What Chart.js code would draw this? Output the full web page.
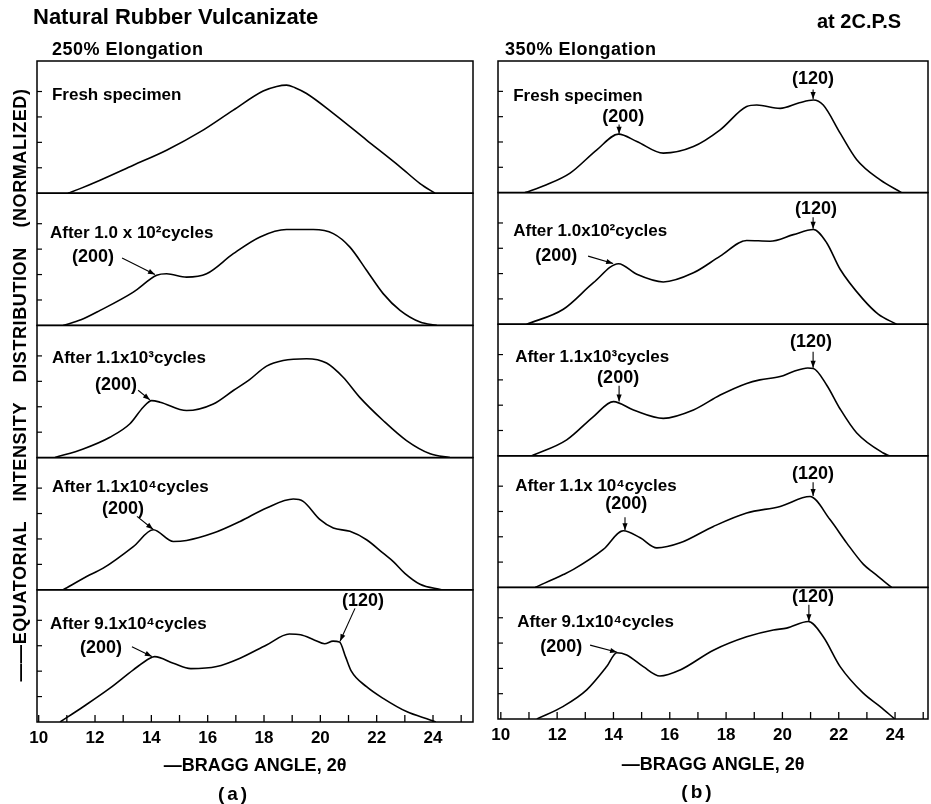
<!DOCTYPE html>
<html>
<head>
<meta charset="utf-8">
<script src="https://cdn.jsdelivr.net/npm/chart.js@4.4.0/dist/chart.umd.min.js"></script>
<style>
html,body{margin:0;padding:0;background:#fff;}
#wrap{position:relative;width:931px;height:804px;overflow:hidden;background:#fff;}
canvas{position:absolute;top:0;}
#cA{left:0;}
#cB{left:480px;}
</style>
</head>
<body>
<div id="wrap">
<canvas id="cA" width="480" height="804"></canvas>
<canvas id="cB" width="451" height="804"></canvas>
</div>
<script>
// ---------------- DATA ----------------
const xTickValues = [10,11,12,13,14,15,16,17,18,19,20,21,22,23,24,25];
const xTickLabels = ['10','','12','','14','','16','','18','','20','','22','','24',''];
const yTickValues = [1,2,3,4];

const figTitle = 'Natural Rubber Vulcanizate';
const figNote = 'at 2C.P.S';
const yAxisTitle = '——EQUATORIAL INTENSITY DISTRIBUTION (NORMALIZED)';
const xAxisTitle = '—BRAGG ANGLE, 2θ';
const panelATitle = '250% Elongation';
const panelBTitle = '350% Elongation';
const panelATag = '(a)';
const panelBTag = '(b)';
const panelALabels = ['Fresh specimen','After 1.0 x 10²cycles','After 1.1x10³cycles','After 1.1x10⁴cycles','After 9.1x10⁴cycles'];
const panelBLabels = ['Fresh specimen','After 1.0x10²cycles','After 1.1x10³cycles','After 1.1x 10⁴cycles','After 9.1x10⁴cycles'];

// Panel (a) 250% elongation : [2θ, normalized intensity]
const aFresh = [[11.04,0],[11.47,0.18],[12.18,0.51],[13.36,1.10],[14.54,1.69],[15.73,2.41],[16.91,3.27],[17.97,4.02],[18.45,4.20],[18.80,4.25],[19.10,4.15],[19.51,3.92],[20.46,3.14],[21.64,2.09],[22.83,1.04],[23.54,0.38],[24.07,0]];
const a1e2 = [[10.87,0],[11.50,0.22],[12.18,0.59],[13.36,1.31],[14.19,1.97],[14.54,2.03],[15.25,1.90],[15.96,2.03],[16.91,2.82],[17.86,3.48],[18.80,3.77],[19.75,3.77],[20.46,3.61],[21.05,3.08],[21.64,2.17],[22.23,1.25],[22.83,0.59],[23.54,0.13],[24.13,0]];
const a1e3 = [[10.58,0],[11.58,0.34],[12.53,0.80],[13.24,1.33],[13.71,1.98],[14.01,2.24],[14.31,2.18],[15.25,1.85],[16.20,2.11],[16.91,2.64],[17.50,3.08],[18.09,3.60],[18.68,3.82],[19.51,3.89],[20.22,3.72],[20.81,3.16],[21.40,2.37],[22.23,1.46],[23.06,0.67],[23.90,0.15],[24.60,0]];
const a1e4 = [[10.87,0],[11.82,0.59],[12.29,0.85],[13.36,1.70],[14.07,2.36],[14.78,1.90],[15.25,1.94],[16.20,2.23],[17.15,2.69],[18.09,3.22],[19.04,3.57],[19.39,3.48],[19.99,2.76],[20.46,2.43],[21.05,2.30],[21.64,1.97],[22.23,1.44],[22.60,1.10],[23.00,0.65],[23.54,0.22],[24.30,0]];
const a9e4 = [[10.76,0],[11.58,0.60],[12.53,1.33],[13.36,2.05],[13.95,2.51],[14.12,2.57],[14.78,2.31],[15.40,2.10],[16.32,2.18],[17.15,2.51],[18.09,3.03],[18.90,3.46],[19.30,3.43],[19.80,3.22],[20.15,3.08],[20.45,3.18],[20.68,3.15],[20.90,2.55],[21.10,2.00],[21.64,1.39],[22.23,0.93],[23.06,0.41],[23.90,0.08],[24.10,0]];

// Panel (b) 350% elongation
const bFresh = [[10.86,0],[11.60,0.30],[12.46,0.77],[13.41,1.69],[14.18,2.31],[14.83,2.02],[15.77,1.56],[16.84,1.82],[17.79,2.48],[18.73,3.40],[19.09,3.46],[19.92,3.33],[20.60,3.55],[21.10,3.66],[21.45,3.46],[22.05,2.35],[22.64,1.30],[23.46,0.51],[24.23,0]];
const b1e2 = [[10.92,0],[12.22,0.59],[13.29,1.64],[14.18,2.39],[14.83,1.97],[15.77,1.67],[16.84,2.03],[17.79,2.69],[18.73,3.31],[19.56,3.28],[20.39,3.54],[21.10,3.74],[21.57,3.22],[22.05,2.17],[22.87,0.98],[23.40,0.40],[24.05,0]];
const b1e3 = [[11.10,0],[12.34,0.63],[13.29,1.55],[14.00,2.14],[14.71,1.81],[15.77,1.48],[16.84,1.81],[17.79,2.40],[18.73,2.86],[19.20,3.00],[19.92,3.13],[20.39,3.33],[20.90,3.47],[21.10,3.45],[21.57,2.80],[22.05,1.85],[22.64,0.90],[23.58,0.11],[23.80,0]];
const b1e4 = [[11.22,0],[12.22,0.51],[12.58,0.71],[13.64,1.50],[14.35,2.24],[14.95,1.96],[15.54,1.56],[16.37,1.76],[17.55,2.41],[18.73,2.94],[19.92,3.20],[20.98,3.59],[21.69,2.68],[22.28,1.76],[22.87,0.92],[23.23,0.58],[23.88,0]];
const b9e4 = [[11.28,0],[12.22,0.50],[13.05,1.15],[13.76,2.07],[14.12,2.62],[14.47,2.53],[15.06,2.07],[15.65,1.70],[16.37,1.94],[17.55,2.72],[18.73,3.25],[19.68,3.52],[20.15,3.59],[20.92,3.85],[21.45,3.25],[22.05,2.07],[22.87,1.02],[23.46,0.50],[23.99,0]];

// ---------------- ANNOTATION PLACEMENT (data units) ----------------
// label anchor per subplot: [2θ, intensity]
const aLabelPos = [[10.47,3.87],[10.40,3.64],[10.47,3.91],[10.47,4.03],[10.40,3.83]];
const bLabelPos = [[10.44,3.79],[10.44,3.68],[10.51,3.91],[10.51,3.99],[10.58,3.83]];
// reflection marks: [subplot, text, textX, textY, arrowX1, arrowY1, arrowX2, arrowY2]
const aMarks = [
  [1,'(200)',11.18,2.69,12.96,2.65,14.13,2.00],
  [2,'(200)',12.00,2.85,13.53,2.65,13.95,2.27],
  [3,'(200)',12.25,3.16,13.49,2.89,14.06,2.38],
  [4,'(200)',11.47,2.92,13.31,2.96,14.02,2.58],
  [4,'(120)',20.77,4.74,21.23,4.47,20.70,3.18]
];
const bMarks = [
  [0,'(200)',13.60,3.00,14.20,2.69,14.20,2.33],
  [0,'(120)',20.34,4.47,21.09,4.07,21.09,3.70],
  [1,'(200)',11.22,2.69,13.10,2.69,13.99,2.40],
  [1,'(120)',20.45,4.55,21.09,4.23,21.09,3.77],
  [2,'(200)',13.42,3.08,14.20,2.77,14.20,2.15],
  [2,'(120)',20.27,4.51,21.09,4.11,21.09,3.48],
  [3,'(200)',13.71,3.28,14.41,2.77,14.41,2.26],
  [3,'(120)',20.34,4.47,21.09,4.15,21.09,3.61],
  [4,'(200)',11.40,2.85,13.17,2.92,14.13,2.64],
  [4,'(120)',20.34,4.82,20.94,4.51,20.94,3.86]
];

// ---------------- RENDERING ----------------
const FONT = '"Liberation Sans", Arial, Helvetica, sans-serif';
const yIds = ['s0','s1','s2','s3','s4'];   // s0 = top subplot
const Y_MAX = 5.2;

function toPts(arr){ return arr.map(p => ({x:p[0], y:p[1]})); }

function arrow(ctx, x1, y1, x2, y2){
  ctx.beginPath(); ctx.moveTo(x1,y1); ctx.lineTo(x2,y2); ctx.stroke();
  const a = Math.atan2(y2-y1, x2-x1), L = 7, W = 2.6;
  ctx.beginPath();
  ctx.moveTo(x2,y2);
  ctx.lineTo(x2 - L*Math.cos(a) + W*Math.sin(a), y2 - L*Math.sin(a) - W*Math.cos(a));
  ctx.lineTo(x2 - L*Math.cos(a) - W*Math.sin(a), y2 - L*Math.sin(a) + W*Math.cos(a));
  ctx.closePath(); ctx.fill();
}

function makeChart(id, series, cfg){
  const scales = {
    x: {
      type:'linear', position:'bottom', min: cfg.xMin, max: cfg.xMax,
      afterBuildTicks: s => { s.ticks = xTickValues.map(v => ({value:v})); },
      afterFit: s => { s.height = cfg.xAxisHeight; },
      ticks: {
        autoSkip:false, maxRotation:0, padding:-2, color:'#000',
        font:{family:FONT, size:17, weight:'bold'},
        callback: v => { const i = xTickValues.indexOf(v); return i >= 0 ? xTickLabels[i] : ''; }
      },
      grid:{display:false}, border:{display:false},
      title:{display:true, text:xAxisTitle, color:'#000', font:{family:FONT, size:18, weight:'bold'}, padding:{top:0, bottom:cfg.xTitleBottom}}
    }
  };
  // stacked axes are laid out bottom-up in insertion order: insert bottom subplot first
  yIds.slice().reverse().forEach(yid => {
    scales[yid] = {
      type:'linear', position:'left', stack:'panel', stackWeight:1, min:0, max:Y_MAX,
      afterFit: s => { s.width = 0; },
      ticks:{display:false}, grid:{display:false}, border:{display:false}
    };
  });
  const datasets = series.map((d,i) => ({
    data: toPts(d), xAxisID:'x', yAxisID: yIds[i],
    borderColor:'#000', borderWidth:1.6, pointRadius:0, fill:false,
    cubicInterpolationMode:'monotone'
  }));

  const decor = {
    id:'decor',
    afterDatasetsDraw(chart){
      const ctx = chart.ctx, ca = chart.chartArea, xs = chart.scales.x;
      ctx.save();
      ctx.strokeStyle = '#000'; ctx.fillStyle = '#000';
      yIds.forEach(yid => {
        const s = chart.scales[yid];
        const top = s.getPixelForValue(Y_MAX), bot = s.getPixelForValue(0);
        ctx.lineWidth = 1.5;
        ctx.strokeRect(ca.left, top, ca.right - ca.left, bot - top);
        ctx.lineWidth = 1.2;
        yTickValues.forEach(v => {
          const py = s.getPixelForValue(v);
          ctx.beginPath(); ctx.moveTo(ca.left, py); ctx.lineTo(ca.left + 5, py); ctx.stroke();
        });
      });
      ctx.lineWidth = 1.3;
      xs.ticks.forEach(t => {
        const px = xs.getPixelForValue(t.value);
        ctx.beginPath(); ctx.moveTo(px, ca.bottom); ctx.lineTo(px, ca.bottom - 7); ctx.stroke();
      });
      ctx.textBaseline = 'middle'; ctx.textAlign = 'left';
      ctx.font = 'bold 17px ' + FONT;
      cfg.labels.forEach((t,i) => {
        const s = chart.scales[yIds[i]];
        ctx.fillText(t, xs.getPixelForValue(cfg.labelPos[i][0]), s.getPixelForValue(cfg.labelPos[i][1]));
      });
      ctx.lineWidth = 1.1;
      cfg.marks.forEach(m => {
        const s = chart.scales[yIds[m[0]]];
        ctx.font = 'bold 18px ' + FONT;
        ctx.fillText(m[1], xs.getPixelForValue(m[2]), s.getPixelForValue(m[3]));
        arrow(ctx, xs.getPixelForValue(m[4]), s.getPixelForValue(m[5]), xs.getPixelForValue(m[6]), s.getPixelForValue(m[7]));
      });
      cfg.texts.forEach(t => {
        ctx.save();
        ctx.font = 'bold ' + t.size + 'px ' + FONT;
        ctx.textAlign = t.align || 'left';
        ctx.textBaseline = 'middle';
        if (t.ls) { try { ctx.letterSpacing = t.ls; } catch(e){} }
        if (t.ws) { try { ctx.wordSpacing = t.ws; } catch(e){} }
        ctx.translate(t.x, t.y);
        if (t.rot) ctx.rotate(t.rot);
        ctx.fillText(t.text, 0, 0);
        ctx.restore();
      });
      ctx.restore();
    }
  };

  return new Chart(document.getElementById(id), {
    type:'line',
    data:{datasets},
    options:{
      responsive:false, animation:false, devicePixelRatio:1,
      layout:{padding:cfg.padding},
      plugins:{legend:{display:false}, tooltip:{enabled:false}, title:{display:false}},
      scales
    },
    plugins:[decor]
  });
}

makeChart('cA', [aFresh,a1e2,a1e3,a1e4,a9e4], {
  xMin:9.94, xMax:25.42, xAxisHeight:82, xTitleBottom:27,
  padding:{left:37, right:7, top:61, bottom:0},
  labels:panelALabels, labelPos:aLabelPos, marks:aMarks,
  texts:[
    {text:figTitle, x:33, y:18, size:22},
    {text:panelATitle, x:52, y:50, size:18, ls:'0.5px'},
    {text:panelATag, x:234, y:795, size:19, align:'center', ls:'3px'},
    {text:yAxisTitle, x:21, y:385, size:18, align:'center', rot:-Math.PI/2, ws:'14px', ls:'0.6px'}
  ]
});

makeChart('cB', [bFresh,b1e2,b1e3,b1e4,b9e4], {
  xMin:9.90, xMax:25.17, xAxisHeight:85, xTitleBottom:28,
  padding:{left:18, right:3, top:61, bottom:0},
  labels:panelBLabels, labelPos:bLabelPos, marks:bMarks,
  texts:[
    {text:figNote, x:337, y:22, size:20},
    {text:panelBTitle, x:25, y:50, size:18, ls:'0.5px'},
    {text:panelBTag, x:218, y:793, size:19, align:'center', ls:'3px'}
  ]
});
</script>
</body>
</html>
